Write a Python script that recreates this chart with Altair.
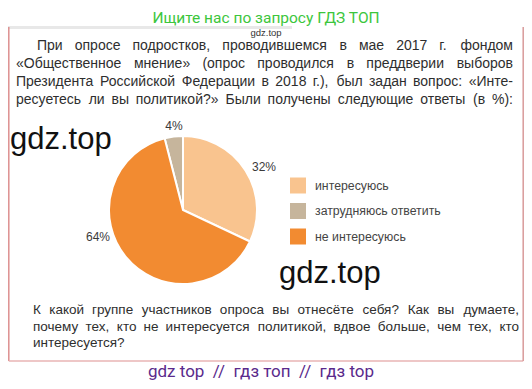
import altair as alt
import pandas as pd

# ---------------- data ----------------
categories = ["интересуюсь", "затрудняюсь ответить", "не интересуюсь"]
values = [32, 4, 64]
pie_order = [0, 2, 1]          # clockwise order of slices from 12 o'clock
pct_labels = ["32%", "4%", "64%"]
slice_colors = ["#f9c48f", "#c6b59c", "#f28b31"]

title_text = "Ищите нас по запросу ГДЗ ТОП"
small_mark = "gdz.top"
watermark = "gdz.top"
footer_text = "gdz top\u00a0\u00a0//\u00a0\u00a0гдз топ\u00a0\u00a0//\u00a0\u00a0гдз top"
intro_lines = [
    "При опросе подростков, проводившемся в мае 2017 г. фондом",
    "«Общественное мнение» (опрос проводился в преддверии выборов",
    "Президента Российской Федерации в 2018 г.), был задан вопрос: «Инте-",
    "ресуетесь ли вы политикой?» Были получены следующие ответы (в %):",
]
question_lines = [
    "К какой группе участников опроса вы отнесёте себя? Как вы думаете,",
    "почему тех, кто не интересуется политикой, вдвое больше, чем тех, кто",
    "интересуется?",
]

# ---------------- layout helpers ----------------
W_, H_ = 516, 373
M = 8  # page margin


def px(x):
    return x - M


def py(y):
    return y - M


_low = "абвгдеёжзийклмнопрстуфхцчшщъыьэюя"
_low_w = [556, 573, 531, 365, 583, 556, 556, 669, 458, 559, 559, 438, 583, 688, 552, 556,
          542, 556, 500, 458, 500, 823, 500, 573, 521, 802, 823, 625, 719, 521, 510, 750, 542]
_up = "АБВГДЕЁЖЗИЙКЛМНОПРСТУФХЦЧШЩЪЫЬЭЮЯ"
_up_w = [667, 656, 667, 542, 677, 667, 667, 923, 604, 719, 719, 583, 656, 833, 722, 778,
         719, 667, 722, 611, 635, 760, 667, 740, 667, 917, 938, 792, 885, 656, 719, 1010, 722]
CW = dict(zip(_low, _low_w))
CW.update(zip(_up, _up_w))
CW.update({" ": 278, ".": 278, ",": 278, ":": 278, "(": 333, ")": 333, "«": 556, "»": 556,
           "?": 556, "%": 889, "-": 333})
for d in "0123456789":
    CW[d] = 556


def tw(s, size):
    return sum(CW.get(ch, 556) for ch in s) / 1000.0 * size


def justify(lines, left_first, left, right, base0, step, size, last_free):
    rows_l, rows_r = [], []
    for i, line in enumerate(lines):
        words = line.split(" ")
        lx = left_first if i == 0 else left
        y = base0 + i * step
        widths = [tw(w, size) for w in words]
        free = last_free and i == len(lines) - 1
        if free or len(words) == 1:
            gap = tw(" ", size)
        else:
            gap = (right - lx - sum(widths)) / (len(words) - 1)
            gap = max(gap, 2.0)
        x = lx
        for j, w in enumerate(words):
            if (not free) and j == len(words) - 1 and len(words) > 1:
                rows_r.append({"w": w, "x": px(right), "y": py(y)})
            else:
                rows_l.append({"w": w, "x": px(x), "y": py(y)})
            x += widths[j] + gap
    return pd.DataFrame(rows_l), pd.DataFrame(rows_r)


X = lambda f: alt.X(f, type="quantitative", scale=None, axis=None)
Y = lambda f: alt.Y(f, type="quantitative", scale=None, axis=None)

TEXT_COL = "#2e2e2e"
FONT = "Liberation Sans"

# ---------------- frame ----------------
LEFT_E, RIGHT_E = 8.8, 523.2   # page x of the frame sides (kept inside the drawable area)
frame_df = pd.DataFrame([
    {"x": px(LEFT_E), "y": py(27), "x2": px(LEFT_E), "y2": py(361), "c": "#dd8f8f"},
    {"x": px(LEFT_E), "y": py(361), "x2": px(RIGHT_E), "y2": py(361), "c": "#e8b4b4"},
    {"x": px(RIGHT_E), "y": py(27), "x2": px(RIGHT_E), "y2": py(361), "c": "#d99a9a"},
])
frame = alt.Chart(frame_df).mark_rule(strokeWidth=1.5).encode(
    x=X("x"), y=Y("y"), x2="x2", y2="y2", color=alt.Color("c:N", scale=None))

shadow_df = pd.DataFrame([{"x": px(8), "x2": px(292), "y": py(26), "y2": py(29)}])
shadow = alt.Chart(shadow_df).mark_rect(color="#e2e2e2", opacity=0.8).encode(
    x=X("x"), x2="x2", y=Y("y"), y2="y2")

# ---------------- title & footer ----------------
title = alt.Chart(pd.DataFrame({"t": [title_text], "x": [px(266)], "y": [py(22.5)]})).mark_text(
    font="Roboto", fontSize=15.5, color="#3cc63c", align="center", baseline="alphabetic").encode(
    x=X("x"), y=Y("y"), text="t:N")

footer = alt.Chart(pd.DataFrame({"t": [footer_text], "x": [px(261)], "y": [py(377)]})).mark_text(
    font="Roboto", fontSize=17, color="#5a2a8c", align="center", baseline="alphabetic").encode(
    x=X("x"), y=Y("y"), text="t:N")

small = alt.Chart(pd.DataFrame({"t": [small_mark], "x": [px(266)], "y": [py(35.5)]})).mark_text(
    font=FONT, fontSize=9.5, color="#333333", align="center", baseline="alphabetic").encode(
    x=X("x"), y=Y("y"), text="t:N")

wm_df = pd.DataFrame({"t": [watermark, watermark], "x": [px(10), px(279)], "y": [py(149), py(283)]})
wm = alt.Chart(wm_df).mark_text(
    font=FONT, fontSize=31, color="#111111", align="left", baseline="alphabetic").encode(
    x=X("x"), y=Y("y"), text="t:N")

# ---------------- paragraphs ----------------
il, ir = justify(intro_lines, 37, 16, 513, 50, 18, 14, False)
ql, qr = justify(question_lines, 33, 33, 519, 314, 16.5, 13.5, True)


def words(df, size, align):
    return alt.Chart(df).mark_text(font=FONT, fontSize=size, color=TEXT_COL, align=align,
                                   baseline="alphabetic").encode(x=X("x"), y=Y("y"), text="w:N")


intro_l = words(il, 14, "left")
intro_r = words(ir, 14, "right")
q_l = words(ql, 13.5, "left")
q_r = words(qr, 13.5, "right")

# ---------------- pie ----------------
color_scale = alt.Scale(domain=categories, range=slice_colors)
pie_df = pd.DataFrame({"cat": categories, "val": values, "ord": pie_order})
arcs = alt.Chart(pie_df).mark_arc(radius=74, stroke="white", strokeWidth=2).encode(
    theta=alt.Theta("val:Q", stack=True),
    color=alt.Color("cat:N", scale=color_scale, legend=None),
    order=alt.Order("ord:Q"),
    x=alt.value(px(183)), y=alt.value(py(210)),
)

lab_df = pd.DataFrame({"t": pct_labels,
                       "x": [px(264), px(174), px(98)],
                       "y": [py(167), py(126), py(237)]})
labels = alt.Chart(lab_df).mark_text(font=FONT, fontSize=12, color="#3a3a3a",
                                     align="center", baseline="middle").encode(
    x=X("x"), y=Y("y"), text="t:N")

# ---------------- legend ----------------
leg_df = pd.DataFrame({"cat": categories,
                       "x": [px(298)] * 3,
                       "tx": [px(315)] * 3,
                       "y": [py(185.5), py(211), py(236.5)]})
leg_sq = alt.Chart(leg_df).mark_square(size=256, opacity=1).encode(
    x=X("x"), y=Y("y"), color=alt.Color("cat:N", scale=color_scale, legend=None))
leg_tx = alt.Chart(leg_df).mark_text(font=FONT, fontSize=12.3, color="#444444",
                                     align="left", baseline="middle").encode(
    x=X("tx"), y=Y("y"), text="cat:N")

chart = alt.layer(
    shadow, frame, title, small, intro_l, intro_r, arcs, labels, leg_sq, leg_tx,
    wm, q_l, q_r, footer,
).properties(width=W_, height=H_, padding=0, autosize="none", background="white"
).configure_view(strokeWidth=0)

chart.save("out.html", embed_options={"renderer": "svg", "actions": False})
